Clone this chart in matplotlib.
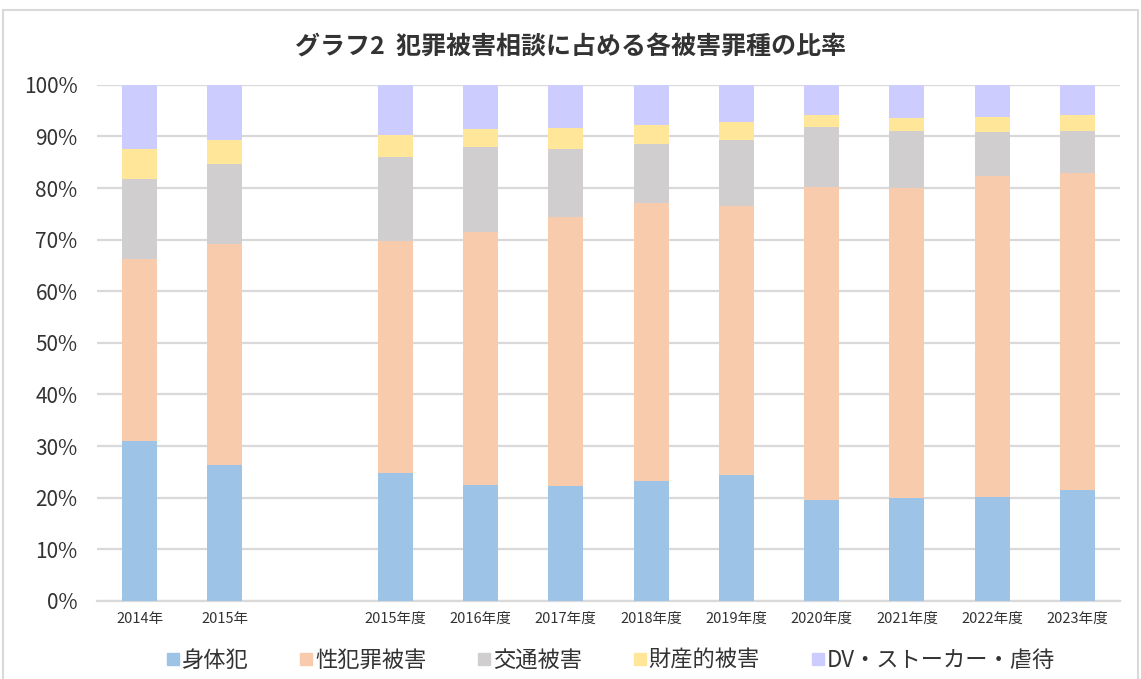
import numpy as np
import matplotlib
matplotlib.use("Agg")
import matplotlib.pyplot as plt
from matplotlib.lines import Line2D
from matplotlib.patches import Rectangle

plt.rcParams['font.family'] = ['Noto Sans CJK JP', 'DejaVu Sans']

# カテゴリ（空欄は年と年度の区切り）
categories = ["2014年", "2015年", "", "2015年度", "2016年度", "2017年度", "2018年度",
              "2019年度", "2020年度", "2021年度", "2022年度", "2023年度"]
nan = np.nan
shintai = [30.9, 26.4, nan, 24.8, 22.4, 22.2, 23.2, 24.4, 19.6, 20.0, 20.2, 21.4]
seihanzai = [35.3, 42.7, nan, 44.9, 49.0, 52.1, 54.0, 52.1, 60.6, 60.0, 62.1, 61.5]
kotsu = [15.6, 15.6, nan, 16.3, 16.5, 13.2, 11.4, 12.9, 11.6, 11.0, 8.5, 8.1]
zaisan = [5.8, 4.7, nan, 4.2, 3.5, 4.1, 3.6, 3.4, 2.4, 2.6, 2.9, 3.1]
dv = [12.4, 10.6, nan, 9.8, 8.6, 8.4, 7.8, 7.2, 5.8, 6.4, 6.3, 5.9]

series = [("身体犯", shintai, "#9DC3E6"),
          ("性犯罪被害", seihanzai, "#F8CBAD"),
          ("交通被害", kotsu, "#D0CECE"),
          ("財産的被害", zaisan, "#FFE699"),
          ("DV・ストーカー・虐待", dv, "#CCCCFF")]

fig = plt.figure(figsize=(11.41, 6.79), dpi=100)
ax = fig.add_axes([0.085, 0.115, 0.8966, 0.76])

x = np.arange(len(categories))
bottom = np.zeros(len(categories))
handles = []
for name, vals, col in series:
    v = np.array(vals, dtype=float)
    ax.bar(x, v / 100, bottom=bottom / 100, width=0.41, color=col, zorder=3)
    bottom = bottom + np.nan_to_num(v)
    handles.append(Line2D([], [], marker="s", linestyle="", markersize=8,
                          markerfacecolor=col, markeredgecolor=col, label=name))

ax.set_xlim(-0.5, len(categories) - 0.5)
ax.set_ylim(0, 1)
ax.set_yticks(np.arange(0, 1.01, 0.1))
ax.set_yticklabels([f"{int(round(t * 100))}%" for t in np.arange(0, 1.01, 0.1)], fontsize=15)
ax.set_xticks(x)
ax.set_xticklabels(categories, fontsize=10.5)
ax.tick_params(length=0, pad=8, colors="#333333")
ax.tick_params(axis="y", pad=14)
ax.grid(axis="y", color="#D9D9D9", linewidth=1.6, zorder=0)
for s in ["top", "right", "left"]:
    ax.spines[s].set_visible(False)
ax.spines["bottom"].set_color("#D9D9D9")
ax.spines["bottom"].set_linewidth(1.6)

fig.text(0.5, 0.93, "グラフ2  犯罪被害相談に占める各被害罪種の比率",
         ha="center", va="center", fontsize=18, fontweight="bold", color="#333333")

fig.legend(handles=handles, loc="center", bbox_to_anchor=(0.535, 0.028), ncol=5,
           frameon=False, fontsize=16, handlelength=0.6, handletextpad=0.1,
           columnspacing=2.3, labelcolor="#333333")

fig.add_artist(Rectangle((0.003, -0.01), 0.994, 0.995, transform=fig.transFigure,
                         fill=False, edgecolor="#D9D9D9", linewidth=1.5))

fig.savefig("out.png", dpi=100)
